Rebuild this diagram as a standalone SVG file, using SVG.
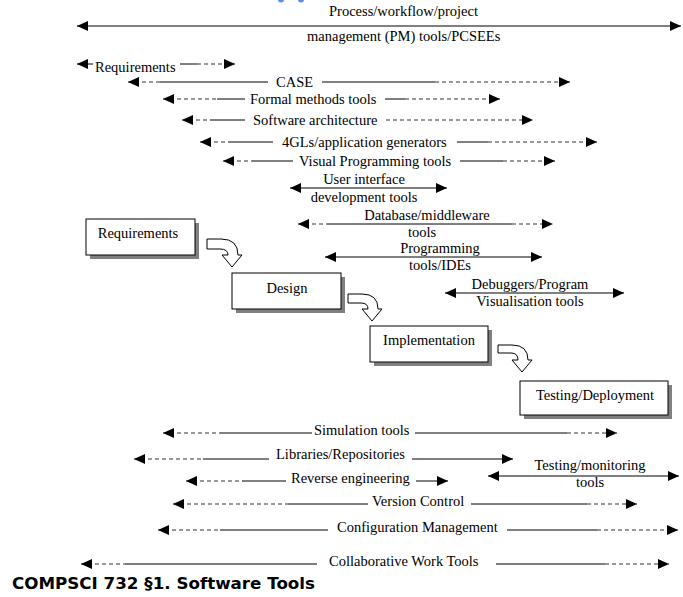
<svg xmlns="http://www.w3.org/2000/svg" width="683" height="597" viewBox="0 0 683 597">
  <defs>
    <marker id="ah" viewBox="0 0 11 10" refX="11" refY="5" markerWidth="11" markerHeight="10" markerUnits="userSpaceOnUse" orient="auto-start-reverse">
      <path d="M0,0 L11,5 L0,10 z" fill="#000"/>
    </marker>
    <style>
      text { font-family: "Liberation Serif", "Times New Roman", serif; font-size: 14.5px; fill: #000; }
      .mid { text-anchor: middle; }
      .s { stroke: #000; stroke-width: 1; fill: none; }
      .d { stroke: #333; stroke-width: 1; fill: none; stroke-dasharray: 4 3; }
      .st { marker-start: url(#ah); }
      .en { marker-end: url(#ah); }
      .shadow { fill: #808080; }
      .box { fill: #fff; stroke: #000; stroke-width: 1; }
      .blk { fill: #fff; stroke: #000; stroke-width: 1; stroke-linejoin: miter; }
      .title { font-family: "Comic Sans MS", "DejaVu Sans", sans-serif; font-weight: bold; font-size: 15px; }
    </style>
  </defs>
  <rect width="683" height="597" fill="#fff"/>

  <!-- small blue marks at the top edge -->
  <circle cx="281" cy="-0.5" r="3" fill="#5b8ef0"/>
  <circle cx="301" cy="-0.5" r="3" fill="#5b8ef0"/>

  <!-- tool spans across the lifecycle -->
  <g id="tool-spans">
    <g id="span-process">
      <path class="s st en" d="M77,26 H681"/>
      <text x="329" y="16">Process/workflow/project</text>
      <text x="307" y="41">management (PM) tools/PCSEEs</text>
    </g>
    <g id="span-requirements">
      <path class="s st" d="M77,64 H93"/>
      <text x="95" y="72">Requirements</text>
      <path class="s" d="M180,64 H197"/>
      <path class="d en" d="M197,64 H235"/>
    </g>
    <g id="span-case">
      <path class="d st" d="M128,82 H160"/>
      <path class="s" d="M160,82 H268"/>
      <text x="276" y="87">CASE</text>
      <path class="s" d="M322,82 H435"/>
      <path class="d en" d="M435,82 H570"/>
    </g>
    <g id="span-formal">
      <path class="d st" d="M163,99 H217"/>
      <path class="s" d="M217,99 H245"/>
      <text x="250" y="104">Formal methods tools</text>
      <path class="s" d="M385,99 H405"/>
      <path class="d en" d="M405,99 H500"/>
    </g>
    <g id="span-architecture">
      <path class="d st" d="M182,120 H210"/>
      <path class="s" d="M210,120 H245"/>
      <text x="253" y="125">Software architecture</text>
      <path class="d en" d="M386,120 H533"/>
    </g>
    <g id="span-4gl">
      <path class="d st" d="M200,142 H228"/>
      <path class="s" d="M228,142 H273"/>
      <text x="282" y="147">4GLs/application generators</text>
      <path class="s" d="M457,142 H488"/>
      <path class="d en" d="M488,142 H597"/>
    </g>
    <g id="span-visual">
      <path class="d st" d="M223,161 H252"/>
      <path class="s" d="M252,161 H293"/>
      <text x="299" y="166">Visual Programming tools</text>
      <path class="s" d="M460,161 H503"/>
      <path class="d en" d="M503,161 H555"/>
    </g>
    <g id="span-ui">
      <path class="s st en" d="M290,188 H447"/>
      <text class="mid" x="364" y="184">User interface</text>
      <text class="mid" x="364" y="202">development tools</text>
    </g>
    <g id="span-database">
      <path class="d st" d="M298,224 H327"/>
      <path class="s" d="M327,224 H512"/>
      <path class="d en" d="M512,224 H553"/>
      <text class="mid" x="427" y="220">Database/middleware</text>
      <text class="mid" x="422" y="237">tools</text>
    </g>
    <g id="span-programming">
      <path class="s st en" d="M325,257 H542"/>
      <text class="mid" x="440" y="253">Programming</text>
      <text class="mid" x="440" y="270">tools/IDEs</text>
    </g>
    <g id="span-debuggers">
      <path class="s st en" d="M445,293 H624"/>
      <text class="mid" x="530" y="289">Debuggers/Program</text>
      <text class="mid" x="530" y="306">Visualisation tools</text>
    </g>
    <g id="span-simulation">
      <path class="d st" d="M163,433 H220"/>
      <path class="s" d="M220,433 H312"/>
      <text x="314" y="435">Simulation tools</text>
      <path class="s" d="M415,433 H567"/>
      <path class="d en" d="M567,433 H617"/>
    </g>
    <g id="span-libraries">
      <path class="d st" d="M134,459 H203"/>
      <path class="s" d="M203,459 H269"/>
      <text x="276" y="459">Libraries/Repositories</text>
      <path class="s en" d="M412,459 H513"/>
    </g>
    <g id="span-reverse">
      <path class="d st" d="M186,481 H242"/>
      <path class="s" d="M242,481 H286"/>
      <text x="291" y="483">Reverse engineering</text>
      <path class="s en" d="M416,481 H448"/>
    </g>
    <g id="span-testing-monitoring">
      <path class="s st en" d="M488,476 H679"/>
      <text class="mid" x="590" y="470">Testing/monitoring</text>
      <text class="mid" x="590" y="487">tools</text>
    </g>
    <g id="span-version">
      <path class="d st" d="M173,504 H288"/>
      <path class="s" d="M288,504 H368"/>
      <text x="372" y="506">Version Control</text>
      <path class="s" d="M471,504 H587"/>
      <path class="d en" d="M587,504 H637"/>
    </g>
    <g id="span-configuration">
      <path class="d st" d="M158,530 H220"/>
      <path class="s" d="M220,530 H328"/>
      <text x="337" y="532">Configuration Management</text>
      <path class="s" d="M507,530 H597"/>
      <path class="d en" d="M597,530 H678"/>
    </g>
    <g id="span-collaborative">
      <path class="d st" d="M81,564 H125"/>
      <path class="s" d="M125,564 H317"/>
      <text x="329" y="566">Collaborative Work Tools</text>
      <path class="s" d="M496,564 H605"/>
      <path class="d en" d="M605,564 H669"/>
    </g>
  </g>

  <!-- lifecycle phases -->
  <g id="phase-requirements">
    <rect class="shadow" x="90" y="223" width="109" height="36"/>
    <rect class="box" x="86" y="219" width="109" height="36"/>
    <text class="mid" x="138" y="238">Requirements</text>
  </g>
  <g id="phase-design">
    <rect class="shadow" x="236" y="277" width="109" height="36"/>
    <rect class="box" x="232" y="273" width="109" height="36"/>
    <text class="mid" x="287" y="293">Design</text>
  </g>
  <g id="phase-implementation">
    <rect class="shadow" x="374" y="330" width="118" height="36"/>
    <rect class="box" x="370" y="326" width="118" height="36"/>
    <text class="mid" x="429" y="345">Implementation</text>
  </g>
  <g id="phase-testing">
    <rect class="shadow" x="524" y="385" width="148" height="34"/>
    <rect class="box" x="520" y="381" width="148" height="34"/>
    <text class="mid" x="595" y="400">Testing/Deployment</text>
  </g>

  <!-- curved block arrows between phases -->
  <g id="connectors">
    <path class="blk" d="M207,239 H221 Q238,239 238,255 H242 L232,267 L222,255 H228 Q228,249 220,249 H207 Z"/>
    <path class="blk" d="M348,294 H362 Q378,294 378,309 H382 L372,321 L362,309 H368 Q368,303 361,303 H348 Z"/>
    <path class="blk" d="M498,345 H512 Q528,345 528,360 H532 L522,372 L512,360 H518 Q518,353 511,353 H498 Z"/>
  </g>

  <text class="title" x="12" y="589" textLength="303" lengthAdjust="spacingAndGlyphs">COMPSCI 732 §1. Software Tools</text>
</svg>
